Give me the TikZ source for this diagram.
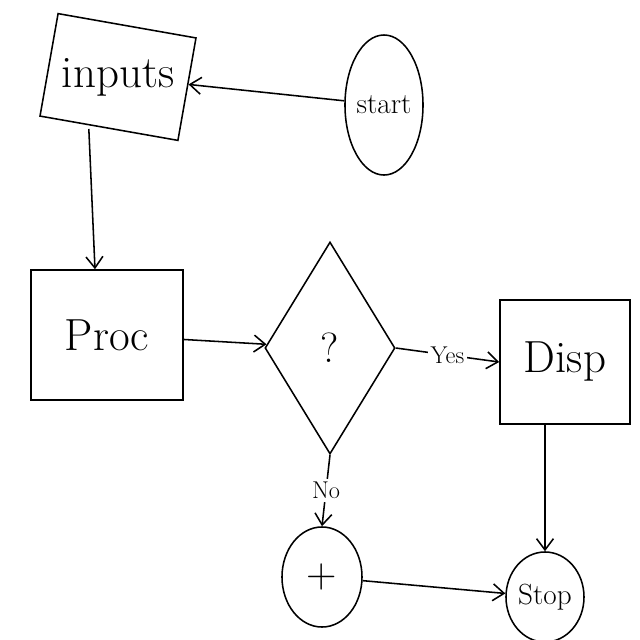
\documentclass[tikz,border=0pt]{standalone}
\usepackage{tikz}
\usetikzlibrary{arrows.meta,positioning,shapes.geometric}

\begin{document}
\begin{tikzpicture}[x=0.025cm, y=-0.025cm, line width=1.1pt,
      box/.style={draw, inner sep=0pt, font=\fontsize{32}{38}\selectfont},
      oval/.style={draw, ellipse, inner sep=0pt, font=\huge},
      flow/.style={-{Straight Barb[length=8pt,width=12pt]}},
      lbl/.style={fill=white, inner sep=2pt, font=\LARGE}]
    \useasboundingbox (0,0) rectangle (640,640);
    \node[draw, minimum width=3.5cm, minimum height=2.6cm, rotate=-10] (inp) at (118,77) {};
    \node[font=\fontsize{32}{38}\selectfont] (inptext) at (inp.center) {inputs};
    \node[oval, minimum width=1.95cm, minimum height=3.5cm] (start) at (384,105) {start};
    \node[box, minimum width=3.8cm, minimum height=3.25cm] (proc) at (107,335) {Proc};
    \node[draw, diamond, inner sep=0pt, minimum width=3.25cm, minimum height=5.3cm, font=\fontsize{30}{36}\selectfont] (dec) at (330,348) {?};
    \node[box, minimum width=3.25cm, minimum height=3.1cm] (disp) at (565,362) {Disp};
    \node[oval, minimum width=2cm, minimum height=2.5cm, font=\fontsize{30}{36}\selectfont] (plus) at (322,577) {+};
    \node[oval, minimum width=1.95cm, minimum height=2.25cm] (stop) at (545,597) {Stop};
    \draw[flow] (start) -- (inp);
    \draw[flow] ([xshift=-0.5cm]inp.south) -- ([xshift=-0.3cm]proc.north);
    \draw[flow] (proc) -- (dec);
    \draw[flow] (dec.east) -- node[lbl] {Yes} (disp.west);
    \draw[flow] (dec.south) -- node[lbl] {No} (plus.north);
    \draw[flow] (stop.north |- disp.south) -- (stop.north);
    \draw[flow] (plus) -- (stop);
  \end{tikzpicture}
\end{document}
